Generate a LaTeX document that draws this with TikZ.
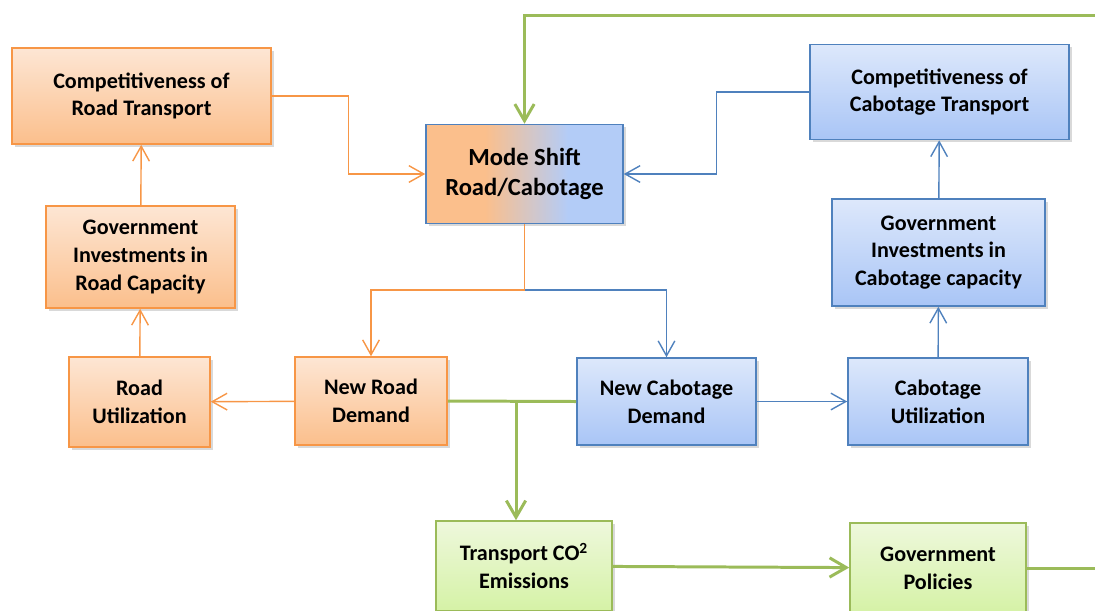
\documentclass[tikz,border=0pt]{standalone}
\usepackage{fontspec}
\setmainfont{Carlito}
\usetikzlibrary{arrows.meta,shadows}
\definecolor{orgline}{HTML}{F79646}
\definecolor{orgtop}{HTML}{FDE6D4}
\definecolor{orgbot}{HTML}{FBBF8C}
\definecolor{bluline}{HTML}{4F81BD}
\definecolor{blutop}{HTML}{DDE8FB}
\definecolor{blubot}{HTML}{A9C5F6}
\definecolor{grnline}{HTML}{9BBB59}
\definecolor{grntop}{HTML}{EEF8DC}
\definecolor{grnbot}{HTML}{D5F2A6}
\pgfdeclarehorizontalshading{modeshade}{100bp}{color(0bp)=(orgbot); color(40bp)=(orgbot); color(61bp)=(blubot!80!blutop); color(100bp)=(blubot!80!blutop)}

\begin{document}
\begin{tikzpicture}[x=0.02cm,y=-0.02cm,
  box/.style={draw,line width=0.9pt,align=center,inner sep=2pt,
    font=\fontsize{12.6}{15.8}\selectfont\bfseries,
    drop shadow={opacity=0.3,shadow xshift=1.5pt,shadow yshift=-1.5pt}},
  obox/.style={box,draw=orgline,top color=orgtop,bottom color=orgbot},
  bbox/.style={box,draw=bluline,top color=blutop,bottom color=blubot},
  gbox/.style={box,draw=grnline,top color=grntop,bottom color=grnbot},
  oarr/.style={orgline,line width=0.8pt,-{Straight Barb[length=8.5pt,width=9.5pt]}},
  barr/.style={bluline,line width=0.8pt,-{Straight Barb[length=8.5pt,width=9.5pt]}},
  garr/.style={grnline,line width=1.7pt,-{Straight Barb[length=9.5pt,width=11pt]}}]
\path[use as bounding box,clip] (0,0) rectangle (1095,610);

\node[obox,minimum width=5.18cm,minimum height=1.92cm] (cRoad) at (141.5,96) {Competitiveness of\\Road Transport};
\node[obox,minimum width=3.78cm,minimum height=2.04cm] (gRoad) at (140.5,257) {Government\\Investments in\\Road Capacity};
\node[obox,minimum width=2.82cm,minimum height=1.8cm] (uRoad) at (139.5,402) {Road\\Utilization};
\node[obox,minimum width=3.04cm,minimum height=1.76cm] (nRoad) at (371,401) {New Road\\Demand};
\node[box,draw=bluline,shading=modeshade,minimum width=3.94cm,minimum height=1.98cm,
  font=\fontsize{14}{17.5}\selectfont\bfseries] (mode) at (524.5,174) {Mode Shift\\Road/Cabotage};
\node[bbox,minimum width=5.18cm,minimum height=1.9cm] (cCab) at (939.5,92) {Competitiveness of\\Cabotage Transport};
\node[bbox,minimum width=4.26cm,minimum height=2.14cm] (gCab) at (938.5,252.5) {Government\\Investments in\\Cabotage capacity};
\node[bbox,minimum width=3.6cm,minimum height=1.74cm] (uCab) at (938,401.5) {Cabotage\\Utilization};
\node[bbox,minimum width=3.58cm,minimum height=1.74cm] (nCab) at (666.5,401.5) {New Cabotage\\Demand};
\node[gbox,minimum width=3.52cm,minimum height=1.8cm] (co2) at (524,566) {Transport CO\textsuperscript{2}\\Emissions};
\node[gbox,minimum width=3.52cm,minimum height=1.8cm] (pol) at (938,568) {Government\\Policies};

\coordinate (split) at (524.5,290);
\coordinate (gsplit) at (516,401);
\coordinate (corner) at (1120,15);

\draw[oarr] (cRoad.east) -- ++(77,0) |- (mode.west);
\draw[oarr] (gRoad) -- (cRoad);
\draw[oarr] (uRoad) -- (gRoad);
\draw[oarr] (nRoad) -- (uRoad);
\draw[barr] (split) -| (nCab.north);
\draw[oarr] (mode.south) -- (split) -| (nRoad.north);
\draw[barr] (cCab.west) -- ++(-93,0) |- (mode.east);
\draw[barr] (gCab) -- (cCab);
\draw[barr] (uCab) -- (gCab);
\draw[barr] (nCab) -- (uCab);
\draw[grnline,line width=1.7pt] (nRoad.east) -- (nCab.west);
\draw[garr] (gsplit) -- (gsplit |- co2.north);
\draw[garr] (co2) -- (pol);
\draw[garr] (pol.east) -| (corner) -| (mode.north);
\end{tikzpicture}
\end{document}
